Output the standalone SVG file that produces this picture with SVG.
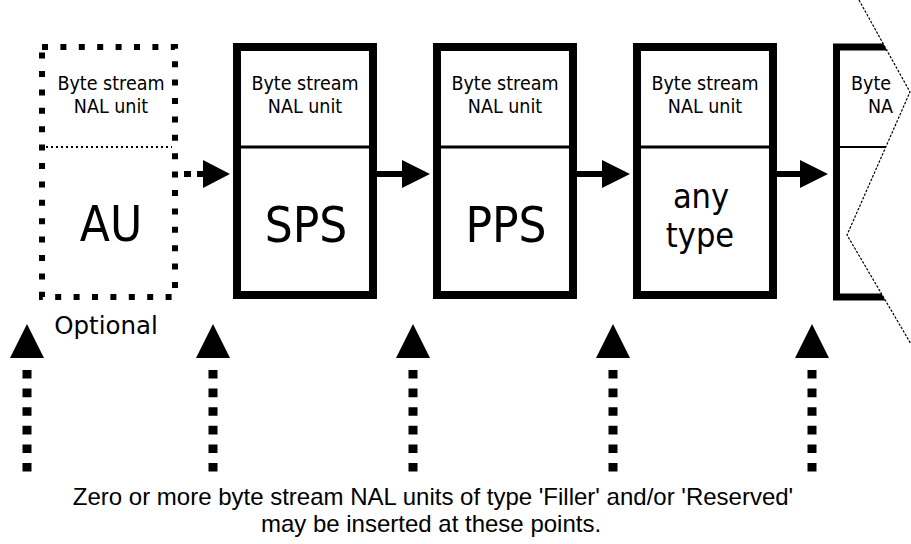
<svg xmlns="http://www.w3.org/2000/svg" width="911" height="544" viewBox="0 0 911 544">
  <style>
    .box { fill: #fff; stroke: #000; stroke-width: 8; }
    .div { stroke: #000; stroke-width: 3; fill: none; }
    .hdr { font-family: "DejaVu Sans Condensed", "DejaVu Sans", sans-serif; font-size: 19.5px; fill: #000; text-anchor: middle; }
    .big { font-family: "DejaVu Sans Condensed", "DejaVu Sans", sans-serif; font-size: 49px; fill: #000; text-anchor: middle; }
    .mid { font-family: "DejaVu Sans Condensed", "DejaVu Sans", sans-serif; font-size: 34px; fill: #000; text-anchor: middle; }
    .lbl { font-family: "DejaVu Sans", sans-serif; font-size: 24.5px; fill: #000; text-anchor: middle; }
    .note { font-family: "Liberation Sans", Arial, sans-serif; font-size: 24px; fill: #000; text-anchor: middle; }
    .link { stroke: #000; stroke-width: 6; fill: none; }
    .stem { stroke: #000; stroke-width: 9; fill: none; stroke-dasharray: 8.6 10; }
  </style>
  <defs>
    <clipPath id="cut">
      <polygon points="820,0 859,0 910,92 847,235 911,344 911,360 820,360"/>
    </clipPath>
  </defs>

  <rect width="911" height="544" fill="#fff"/>

  <!-- optional access unit delimiter -->
  <g id="node-au">
    <rect x="42" y="47" width="133" height="250" fill="#fff" stroke="#000" stroke-width="6" stroke-dasharray="6 12.4"/>
    <line x1="46" y1="147" x2="172" y2="147" stroke="#000" stroke-width="2" stroke-dasharray="2 3"/>
    <text class="hdr" x="111" y="90">Byte stream</text>
    <text class="hdr" x="111" y="113">NAL unit</text>
    <text class="big" x="111" y="241">AU</text>
    <text class="lbl" x="106" y="334">Optional</text>
  </g>

  <g id="node-sps">
    <rect class="box" x="237" y="47" width="136" height="248"/>
    <line class="div" x1="241" y1="147" x2="369" y2="147"/>
    <text class="hdr" x="305" y="90">Byte stream</text>
    <text class="hdr" x="305" y="113">NAL unit</text>
    <text class="big" x="306" y="242">SPS</text>
  </g>

  <g id="node-pps">
    <rect class="box" x="437" y="47" width="136" height="248"/>
    <line class="div" x1="441" y1="147" x2="569" y2="147"/>
    <text class="hdr" x="505" y="90">Byte stream</text>
    <text class="hdr" x="505" y="113">NAL unit</text>
    <text class="big" x="506" y="242">PPS</text>
  </g>

  <g id="node-any">
    <rect class="box" x="637" y="47" width="136" height="248"/>
    <line class="div" x1="641" y1="147" x2="769" y2="147"/>
    <text class="hdr" x="705" y="90">Byte stream</text>
    <text class="hdr" x="705" y="113">NAL unit</text>
    <text class="mid" x="701" y="208">any</text>
    <text class="mid" x="700" y="247">type</text>
  </g>

  <!-- following unit, torn off at the right edge -->
  <g id="node-next">
    <g clip-path="url(#cut)">
      <path d="M 890 47 H 836.5 V 297 H 890" fill="#fff" stroke="#000" stroke-width="7"/>
      <line x1="840" y1="147" x2="895" y2="147" stroke="#000" stroke-width="2"/>
      <text x="851" y="90" font-family="DejaVu Sans Condensed, DejaVu Sans, sans-serif" font-size="19.5" fill="#000">Byte</text>
      <text x="868" y="113" font-family="DejaVu Sans Condensed, DejaVu Sans, sans-serif" font-size="19.5" fill="#000">NA</text>
    </g>
    <polyline points="859,0 910,92 847,235 911,344" fill="none" stroke="#000" stroke-width="1.2" stroke-dasharray="2.5 1.5"/>
  </g>

  <g id="connectors">
    <!-- stream order -->
    <line class="link" x1="184" y1="174" x2="205" y2="174" stroke-dasharray="7 6"/>
    <polygon points="203,160 230,174 203,188"/>
    <line class="link" x1="377" y1="174" x2="404" y2="174"/>
    <polygon points="402,160 430,174 402,188"/>
    <line class="link" x1="577" y1="174" x2="604" y2="174"/>
    <polygon points="602,160 630,174 602,188"/>
    <line class="link" x1="777" y1="174" x2="802" y2="174"/>
    <polygon points="800,160 828,174 800,188"/>

    <!-- insertion points -->
    <line class="stem" x1="27" y1="370" x2="27" y2="472"/>
    <polygon points="27,324 44,358 10,358"/>
    <line class="stem" x1="213" y1="370" x2="213" y2="472"/>
    <polygon points="213,324 230,358 196,358"/>
    <line class="stem" x1="413" y1="370" x2="413" y2="472"/>
    <polygon points="413,324 430,358 396,358"/>
    <line class="stem" x1="613" y1="370" x2="613" y2="472"/>
    <polygon points="613,324 630,358 596,358"/>
    <line class="stem" x1="812" y1="370" x2="812" y2="472"/>
    <polygon points="812,324 829,358 795,358"/>
  </g>

  <g id="note">
    <text class="note" x="433" y="505">Zero or more byte stream NAL units of type 'Filler' and/or 'Reserved'</text>
    <text class="note" x="431" y="532">may be inserted at these points.</text>
  </g>
</svg>
